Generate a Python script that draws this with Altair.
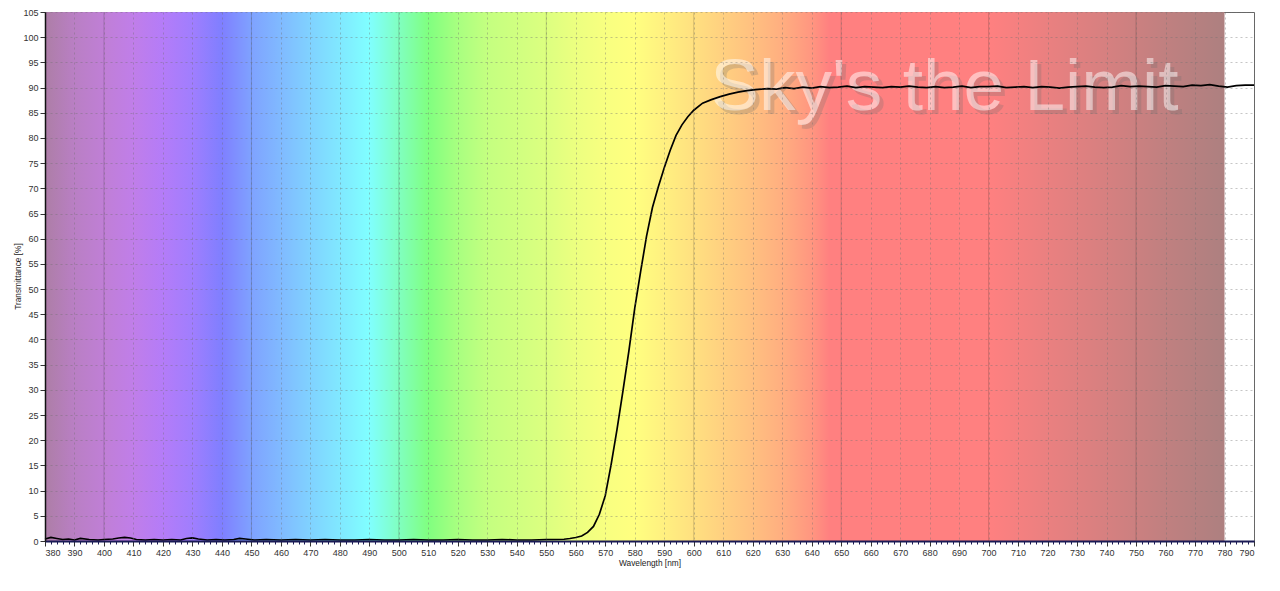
import altair as alt
import pandas as pd

# ---- measured transmittance curve ----
wavelength = [380, 382, 384, 386, 388, 390, 392, 395, 398, 400, 403, 405, 407, 409, 411,
              414, 417, 420, 423, 426, 428, 430, 432, 435, 438, 441, 444, 446, 448, 451,
              455, 460, 465, 470, 475, 480, 485, 490, 495, 500, 505, 510, 515, 520, 525,
              530, 535, 540, 545, 550, 553, 556, 558, 560, 562, 564, 566, 568, 570, 572,
              574, 576, 578, 580, 582, 584, 586, 588, 590, 592, 594, 596, 598, 600, 603,
              606, 609, 612, 615, 618, 621, 625, 628, 631, 634, 637, 640, 643, 646, 649,
              652, 655, 658, 661, 664, 667, 670, 673, 676, 679, 682, 685, 688, 691, 694,
              697, 700, 703, 706, 709, 712, 715, 718, 721, 724, 727, 730, 733, 736, 739,
              742, 745, 748, 751, 754, 757, 760, 763, 766, 769, 772, 775, 778, 781, 784,
              787, 790]
transmittance = [0.4, 0.7, 0.5, 0.3, 0.4, 0.2, 0.5, 0.3, 0.2, 0.3, 0.4, 0.6, 0.7, 0.6, 0.3,
                 0.2, 0.3, 0.2, 0.3, 0.2, 0.5, 0.6, 0.4, 0.2, 0.3, 0.2, 0.3, 0.5, 0.4, 0.2,
                 0.3, 0.2, 0.3, 0.2, 0.3, 0.2, 0.2, 0.3, 0.2, 0.2, 0.3, 0.2, 0.2, 0.3, 0.2,
                 0.2, 0.3, 0.2, 0.2, 0.3, 0.3, 0.35, 0.5, 0.7, 1.0, 1.7, 2.9, 5.3, 9.0, 15.2,
                 22.2, 29.8, 37.7, 46.2, 53.5, 60.5, 66.2, 70.3, 74.1, 77.5, 80.5, 82.6, 84.2, 85.5, 86.9,
                 87.6, 88.2, 88.7, 89.1, 89.4, 89.6, 89.8, 89.7, 90.0, 89.8, 90.1, 89.9, 90.2, 90.0, 90.1,
                 90.3, 90.0, 90.2, 90.1, 90.0, 90.2, 90.1, 90.3, 90.1, 90.0, 90.2, 90.0, 90.1, 90.3, 90.0,
                 90.2, 90.2, 90.3, 90.0, 90.1, 90.2, 90.0, 90.2, 90.1, 89.9, 90.1, 90.2, 90.3, 90.1, 90.0,
                 90.1, 90.4, 90.2, 90.3, 90.2, 90.1, 90.4, 90.3, 90.2, 90.5, 90.4, 90.6, 90.3, 90.1, 90.4,
                 90.5, 90.5]

# ---- visible spectrum background ----
spectrum_nm = [380, 390, 400, 410, 420, 430, 440, 450, 460, 470, 480, 490, 500, 510, 520,
               530, 540, 550, 560, 570, 580, 590, 600, 610, 620, 630, 640, 646, 700, 720,
               740, 760, 780]
spectrum_colors = ["#ad7ea6", "#b97fc4", "#c07fd6", "#c07ee9", "#b47cf8", "#a07efe", "#7f7fff",
                   "#7fa2ff", "#80baff", "#80d2ff", "#80e8ff", "#80ffff", "#80ffc0", "#80ff80",
                   "#a8ff80", "#c4ff80", "#d0ff80", "#dcff80", "#ecff80", "#f8ff80", "#ffff80",
                   "#fff080", "#ffe080", "#ffd080", "#ffc080", "#ffae80", "#ff9680", "#ff8080",
                   "#ff8080", "#ea8080", "#d68080", "#c08080", "#ad8080"]

major_lines = [400, 450, 500, 550, 600, 650, 700, 750]
x_ticks = list(range(380, 791, 10))
minor_ticks = list(range(380, 791, 2))
y_ticks = list(range(0, 106, 5))
x_domain = [380, 790]
y_domain = [0, 105]

watermark_text = ["Sky's the Limit"]
watermark_x = [685]
watermark_y = [85.5]

curve = pd.DataFrame({"wl": wavelength, "t": transmittance})
lo, hi = min(spectrum_nm), max(spectrum_nm)
bg = pd.DataFrame({"x0": [lo], "x1": [hi], "y0": [y_domain[0]], "y1": [y_domain[1]]})
lines_df = pd.DataFrame({"wl": major_lines})
wm = pd.DataFrame({"wl": watermark_x, "t": watermark_y, "label": watermark_text})

xscale = alt.Scale(domain=x_domain, nice=False, zero=False)
yscale = alt.Scale(domain=y_domain, nice=False)

y_axis = alt.Axis(values=y_ticks, title="Transmittance [%]", format="d", labelOverlap=False,
                  titleX=-27, titleY=264, titleAngle=-90, titleAlign="center",
                  titleBaseline="middle", zindex=1,
                  domainColor="#111111", domainWidth=1.5)

gradient = alt.Gradient(
    gradient="linear",
    stops=[alt.GradientStop(color=c, offset=(w - lo) / (hi - lo))
           for w, c in zip(spectrum_nm, spectrum_colors)],
    x1=0, x2=1, y1=0, y2=0,
)

background = alt.Chart(bg).mark_rect(color=gradient).encode(
    x=alt.X("x0:Q", scale=xscale,
            axis=alt.Axis(values=x_ticks, title="Wavelength [nm]", format="d",
                          labelOverlap=False, orient="bottom",
                          titleY=22, titleBaseline="middle", zindex=1)),
    x2="x1:Q",
    y=alt.Y("y0:Q", scale=yscale, axis=y_axis),
    y2="y1:Q",
)

rules = alt.Chart(lines_df).mark_rule(color="#000000", opacity=0.17, strokeWidth=1).encode(
    x=alt.X("wl:Q", scale=xscale, axis=None)
)

shadow = alt.Chart(wm).mark_text(
    font="Liberation Sans", fontSize=73, color="#6e6e6e", opacity=0.25,
    align="center", baseline="alphabetic", dx=4, dy=4,
).encode(x=alt.X("wl:Q", scale=xscale, axis=None),
         y=alt.Y("t:Q", scale=yscale, axis=y_axis), text="label:N")

wtext = alt.Chart(wm).mark_text(
    font="Liberation Sans", fontSize=73, color="#ffffff", opacity=0.5,
    align="center", baseline="alphabetic",
).encode(x=alt.X("wl:Q", scale=xscale, axis=None),
         y=alt.Y("t:Q", scale=yscale, axis=y_axis), text="label:N")

line = alt.Chart(curve).mark_line(color="#000000", strokeWidth=1.7).encode(
    x=alt.X("wl:Q", scale=xscale,
            axis=alt.Axis(values=minor_ticks, labels=False, grid=False, domain=False,
                          tickSize=3, tickColor="#1a1a55", title=None, orient="bottom")),
    y=alt.Y("t:Q", scale=yscale, axis=y_axis),
)

chart = alt.layer(background, rules, shadow, wtext, line).resolve_axis(
    x="independent"
).properties(
    width=1209, height=529,
    autosize=alt.AutoSizeParams(type="none"),
    padding={"left": 37, "top": 4, "right": 16, "bottom": 40},
    background="#ffffff",
).configure_view(
    stroke="#666666", strokeWidth=1
).configure_axis(
    labelFont="Liberation Sans", labelFontSize=9, labelColor="#333333",
    titleFont="Liberation Sans", titleFontSize=8.3, titleColor="#222222", titleFontWeight="normal",
    tickColor="#333333", tickSize=5, labelPadding=2,
    gridColor="#707070", gridOpacity=0.4, gridDash=[2, 3], gridWidth=1,
    domainColor="#1a1a55", domainWidth=2,
)

chart.save("out.html", embed_options={"renderer": "svg", "actions": False})
